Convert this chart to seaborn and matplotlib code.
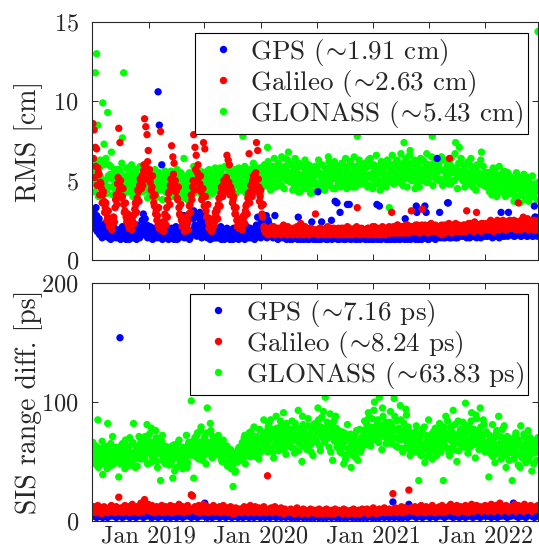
import pandas as pd
import matplotlib
matplotlib.use("Agg")
import matplotlib.pyplot as plt
import matplotlib.dates as mdates
import seaborn as sns

sns.set_style("ticks")
plt.rcParams["font.family"] = ["cmr10"]
plt.rcParams["mathtext.fontset"] = "cm"
plt.rcParams["axes.formatter.use_mathtext"] = True

# samples every 4 days from START; the "_b" lists are the days in between (START + 2 days)
START = "2018-07-04"

# ---- RMS, in tenths of a cm ----
gps_rms = [
    24, 31, 22, 28, 19, 26, 17, 21, 15, 19, 23, 16, 18, 14, 20, 17, 22, 15, 18, 16,
    17, 14, 19, 16, 21, 15, 18, 13, 17, 20, 15, 18, 14, 16, 19, 15, 22, 17, 14, 18,
    25, 29, 18, 16, 22, 15, 19, 14, 17, 20, 15, 18, 16, 106, 85, 17, 60, 18, 14, 16,
    15, 18, 14, 17, 20, 16, 13, 18, 15, 17, 14, 19, 16, 22, 28, 18, 15, 24, 17, 14,
    29, 18, 31, 22, 16, 27, 19, 30, 17, 23, 15, 26, 18, 14, 21, 16, 19, 15, 17, 14,
    16, 19, 14, 17, 21, 15, 18, 13, 16, 20, 14, 17, 15, 19, 13, 16, 18, 14, 17, 15,
    17, 14, 19, 15, 18, 21, 16, 14, 20, 17, 15, 19, 16, 22, 27, 18, 15, 24, 17, 20,
    19, 28, 16, 23, 18, 15, 21, 17, 28, 16, 19, 14, 18, 16, 20, 15, 17, 14, 19, 16,
    15, 18, 13, 16, 19, 14, 17, 27, 15, 13, 18, 16, 14, 19, 15, 17, 13, 16, 24, 15,
    14, 17, 15, 43, 13, 16, 24, 15, 18, 14, 16, 13, 17, 15, 25, 14, 16, 37, 15, 13,
    16, 30, 14, 17, 13, 15, 18, 35, 14, 16, 13, 17, 15, 14, 18, 13, 16, 15, 14, 17,
    14, 16, 13, 15, 18, 14, 16, 13, 17, 15, 14, 35, 16, 34, 13, 15, 17, 14, 16, 13,
    15, 13, 16, 14, 17, 13, 15, 18, 14, 16, 13, 15, 17, 14, 26, 15, 13, 16, 14, 17,
    15, 14, 17, 34, 16, 13, 15, 18, 14, 16, 34, 30, 15, 13, 17, 14, 16, 15, 18, 14,
    64, 16, 30, 15, 17, 14, 16, 18, 15, 36, 14, 17, 15, 16, 18, 14, 17, 15, 16, 19,
    16, 18, 15, 17, 14, 19, 16, 18, 15, 17, 20, 16, 14, 18, 15, 17, 19, 16, 15, 18,
    17, 15, 19, 16, 18, 14, 17, 20, 16, 18, 15, 17, 30, 16, 19, 15, 17, 18, 30, 16,
    18, 16, 19, 15, 17, 20, 16, 18, 15, 19, 17, 16, 18, 15, 20, 17, 16, 19, 15, 34,
    27, 17, 19,
]
gps_rms_b = [
    27, 20, 33, 18, 25, 16, 22, 14, 20, 17, 15, 21, 16, 19, 13, 18, 15, 20, 14, 17,
    15, 19, 13, 18, 16, 14, 20, 17, 15, 13, 19, 16, 21, 14, 17, 13, 18, 15, 20, 16,
    21, 16, 26, 19, 14, 17, 21, 16, 13, 18, 15, 20, 14, 17, 15, 19, 13, 16, 20, 15,
    17, 13, 16, 19, 14, 18, 15, 21, 13, 16, 19, 15, 26, 17, 14, 19, 22, 16, 13, 18,
    17, 26, 20, 28, 15, 22, 17, 24, 14, 19, 28, 16, 20, 15, 18, 13, 17, 20, 14, 16,
    14, 17, 20, 15, 13, 18, 16, 19, 14, 17, 15, 13, 18, 16, 20, 14, 15, 19, 13, 16,
    15, 19, 16, 13, 17, 15, 20, 18, 14, 16, 19, 13, 18, 15, 17, 21, 14, 16, 19, 28,
    16, 14, 25, 17, 15, 19, 14, 16, 18, 15, 13, 17, 15, 19, 14, 16, 18, 13, 15, 17,
    13, 16, 15, 18, 14, 16, 13, 15, 17, 14, 16, 13, 17, 15, 13, 16, 14, 18, 15, 13,
    16, 13, 15, 14, 17, 13, 15, 14, 16, 13, 15, 17, 14, 16, 13, 15, 14, 16, 36, 14,
    13, 15, 17, 14, 16, 13, 15, 14, 35, 13, 15, 14, 16, 13, 15, 17, 14, 13, 16, 14,
    15, 13, 14, 16, 13, 15, 14, 17, 13, 14, 16, 13, 15, 14, 13, 16, 14, 15, 13, 14,
    14, 16, 13, 15, 14, 16, 13, 14, 16, 13, 15, 14, 16, 13, 15, 14, 16, 14, 13, 15,
    14, 16, 13, 30, 14, 15, 17, 13, 16, 14, 15, 16, 13, 14, 16, 15, 14, 17, 13, 16,
    15, 17, 14, 16, 15, 18, 14, 16, 36, 15, 17, 14, 16, 18, 15, 17, 14, 16, 18, 15,
    17, 15, 16, 18, 15, 17, 14, 19, 16, 15, 17, 18, 15, 16, 19, 14, 17, 15, 18, 16,
    15, 17, 16, 18, 15, 19, 16, 15, 18, 17, 14, 16, 18, 15, 17, 16, 19, 15, 17, 18,
    16, 19, 15, 17, 18, 16, 19, 17, 15, 18, 16, 19, 17, 15, 18, 16, 17, 15, 19, 27,
    17, 15, 18,
]
gal_rms = [
    86, 82, 71, 70, 58, 54, 49, 45, 41, 37, 33, 30, 27, 24, 22, 21, 23, 27, 33, 41,
    48, 83, 74, 46, 40, 35, 31, 27, 24, 22, 21, 22, 25, 28, 32, 35, 39, 43, 47, 50,
    53, 56, 89, 84, 79, 69, 57, 52, 46, 40, 34, 29, 25, 22, 20, 81, 19, 21, 24, 28,
    33, 38, 43, 47, 72, 65, 61, 50, 44, 38, 33, 28, 25, 22, 20, 19, 21, 24, 29, 35,
    41, 46, 79, 71, 66, 55, 52, 48, 43, 39, 74, 70, 31, 27, 24, 22, 20, 19, 21, 24,
    28, 31, 35, 39, 42, 45, 47, 44, 48, 66, 63, 60, 46, 43, 38, 33, 29, 25, 22, 20,
    21, 22, 24, 27, 31, 35, 39, 67, 43, 47, 50, 52, 49, 74, 69, 46, 40, 34, 27, 21,
    18, 17, 19, 16, 20, 18, 17, 21, 16, 19, 18, 17, 20, 16, 18, 22, 17, 19, 16, 18,
    17, 19, 16, 20, 18, 17, 21, 16, 18, 23, 17, 19, 16, 18, 20, 17, 16, 19, 18, 17,
    18, 29, 17, 19, 16, 20, 18, 17, 19, 16, 18, 21, 17, 19, 16, 18, 20, 17, 19, 16,
    18, 17, 20, 16, 19, 18, 17, 21, 16, 18, 19, 17, 16, 20, 18, 33, 17, 19, 16, 18,
    17, 19, 16, 18, 20, 17, 19, 16, 18, 21, 17, 19, 16, 18, 20, 17, 19, 18, 16, 20,
    18, 21, 17, 30, 19, 17, 20, 18, 22, 17, 19, 21, 18, 20, 17, 19, 22, 18, 20, 31,
    19, 21, 18, 20, 22, 19, 21, 18, 32, 20, 22, 19, 21, 18, 20, 23, 19, 21, 18, 20,
    19, 17, 21, 18, 16, 20, 22, 18, 21, 19, 64, 20, 17, 21, 19, 23, 20, 18, 21, 19,
    21, 18, 22, 20, 31, 21, 19, 23, 20, 22, 18, 21, 30, 20, 22, 19, 23, 21, 19, 22,
    21, 23, 19, 22, 24, 20, 18, 23, 21, 25, 22, 19, 23, 20, 24, 22, 19, 23, 21, 25,
    22, 24, 20, 23, 19, 24, 36, 22, 19, 23, 27, 20, 24, 22, 19, 23, 21, 25, 22, 19,
    23, 19, 21,
]
gal_rms_b = [
    64, 52, 59, 47, 55, 41, 48, 36, 43, 30, 36, 25, 31, 21, 26, 19, 27, 24, 38, 35,
    52, 44, 50, 39, 45, 30, 36, 24, 29, 20, 25, 19, 28, 23, 36, 30, 44, 37, 51, 45,
    47, 60, 51, 58, 62, 55, 49, 44, 53, 36, 41, 31, 28, 33, 23, 19, 24, 18, 29, 22,
    27, 42, 35, 51, 44, 54, 47, 43, 39, 46, 29, 35, 21, 27, 18, 23, 26, 19, 34, 30,
    38, 50, 44, 57, 49, 60, 45, 53, 38, 45, 34, 40, 27, 35, 20, 26, 18, 22, 25, 30,
    32, 26, 39, 34, 46, 40, 50, 43, 52, 45, 49, 41, 44, 36, 40, 29, 33, 21, 26, 23,
    24, 19, 28, 23, 34, 29, 42, 36, 47, 40, 53, 45, 55, 43, 51, 37, 44, 29, 35, 19,
    17, 20, 16, 19, 17, 21, 18, 16, 19, 17, 20, 18, 16, 19, 17, 20, 18, 16, 21, 17,
    19, 16, 18, 17, 20, 16, 19, 18, 17, 20, 16, 18, 21, 17, 19, 16, 18, 20, 17, 19,
    17, 19, 16, 18, 20, 17, 19, 16, 18, 20, 17, 16, 19, 18, 20, 17, 19, 16, 18, 20,
    16, 19, 18, 20, 17, 16, 19, 18, 20, 17, 16, 19, 18, 17, 21, 19, 16, 18, 20, 17,
    19, 17, 18, 20, 16, 19, 17, 21, 18, 16, 19, 20, 17, 18, 16, 21, 17, 19, 20, 18,
    20, 17, 19, 18, 21, 19, 17, 22, 18, 20, 19, 17, 21, 18, 22, 19, 17, 20, 18, 21,
    18, 20, 22, 19, 21, 17, 20, 22, 19, 18, 21, 20, 17, 22, 19, 21, 18, 20, 22, 19,
    21, 19, 18, 22, 20, 19, 17, 21, 20, 23, 18, 19, 22, 20, 18, 21, 19, 22, 20, 18,
    19, 22, 20, 18, 21, 23, 20, 19, 22, 18, 24, 20, 19, 22, 21, 18, 20, 23, 21, 19,
    23, 20, 22, 25, 21, 19, 23, 22, 20, 24, 21, 23, 20, 25, 21, 19, 24, 22, 20, 23,
    20, 23, 25, 21, 22, 20, 24, 21, 25, 22, 20, 23, 21, 26, 22, 20, 24, 21, 23, 25,
    21, 24, 22,
]
glo_rms = [
    48, 55, 118, 130, 85, 52, 63, 47, 99, 73, 50, 44, 93, 60, 54, 68, 46, 53, 49, 57,
    51, 45, 56, 48, 77, 118, 53, 43, 49, 58, 46, 52, 55, 44, 50, 57, 47, 53, 45, 51,
    49, 54, 44, 52, 47, 56, 43, 50, 46, 53, 48, 39, 45, 51, 55, 44, 49, 46, 52, 43,
    47, 53, 44, 50, 46, 55, 42, 49, 45, 52, 48, 44, 51, 47, 64, 50, 45, 38, 48, 54,
    50, 46, 59, 44, 52, 48, 55, 43, 49, 51, 45, 53, 47, 56, 44, 50, 48, 54, 46, 52,
    49, 54, 45, 51, 56, 47, 53, 44, 50, 58, 46, 52, 48, 55, 43, 51, 47, 53, 49, 56,
    50, 46, 78, 53, 48, 55, 44, 51, 57, 47, 52, 49, 56, 45, 53, 48, 58, 51, 46, 54,
    52, 48, 71, 55, 50, 57, 46, 53, 59, 49, 54, 61, 51, 47, 56, 52, 64, 58, 50, 68,
    55, 49, 60, 52, 46, 57, 50, 43, 54, 59, 48, 53, 45, 56, 51, 47, 58, 42, 54, 50,
    53, 48, 57, 44, 55, 60, 50, 46, 54, 58, 49, 52, 62, 47, 55, 51, 57, 45, 53, 59,
    50, 56, 52, 61, 47, 54, 58, 49, 55, 51, 60, 46, 53, 57, 50, 78, 54, 48, 56, 52,
    55, 49, 58, 52, 63, 47, 54, 60, 51, 56, 48, 53, 59, 50, 55, 46, 57, 52, 61, 49,
    54, 33, 57, 51, 60, 48, 55, 62, 50, 56, 53, 58, 47, 74, 55, 61, 52, 57, 69, 50,
    56, 52, 45, 59, 54, 61, 50, 57, 63, 53, 58, 49, 55, 60, 52, 57, 78, 54, 62, 51,
    55, 60, 51, 57, 63, 49, 56, 52, 59, 54, 61, 48, 55, 58, 50, 74, 57, 53, 71, 52,
    56, 50, 58, 53, 61, 48, 55, 51, 59, 46, 54, 57, 50, 53, 60, 49, 68, 52, 47, 55,
    51, 46, 55, 49, 53, 44, 50, 57, 47, 52, 43, 49, 54, 45, 51, 47, 42, 50, 46, 53,
    47, 42, 50, 44, 39, 48, 45, 52, 41, 46, 43, 49, 38, 45, 50, 42, 47, 40, 44, 48,
    43, 46, 144,
]
glo_rms_b = [
    56, 43, 61, 50, 40, 58, 52, 45, 60, 47, 64, 42, 53, 46, 59, 51, 41, 57, 44, 54,
    44, 57, 50, 61, 41, 52, 47, 58, 43, 54, 49, 60, 40, 51, 56, 45, 53, 42, 59, 48,
    43, 53, 48, 58, 39, 50, 56, 42, 51, 46, 57, 40, 49, 55, 44, 51, 38, 47, 56, 45,
    52, 42, 48, 56, 40, 46, 53, 44, 57, 41, 49, 55, 42, 48, 39, 53, 46, 41, 55, 44,
    45, 55, 42, 50, 58, 44, 49, 56, 41, 48, 55, 43, 51, 40, 57, 46, 52, 42, 49, 58,
    55, 44, 50, 58, 41, 52, 47, 59, 43, 49, 56, 42, 52, 45, 57, 49, 42, 54, 58, 46,
    44, 56, 48, 59, 42, 53, 50, 45, 57, 48, 61, 43, 52, 58, 46, 54, 42, 58, 49, 60,
    58, 47, 62, 54, 44, 59, 51, 64, 46, 57, 52, 60, 47, 65, 54, 45, 59, 51, 63, 55,
    51, 60, 44, 57, 64, 47, 54, 61, 43, 52, 59, 49, 63, 45, 55, 60, 47, 57, 51, 43,
    59, 48, 55, 63, 45, 53, 60, 51, 44, 57, 52, 65, 47, 59, 54, 45, 62, 52, 57, 48,
    57, 46, 61, 53, 50, 64, 45, 59, 52, 62, 48, 55, 65, 46, 59, 52, 63, 56, 48, 60,
    50, 61, 53, 46, 59, 64, 52, 45, 60, 53, 66, 48, 57, 44, 62, 55, 50, 59, 46, 63,
    61, 51, 56, 66, 48, 59, 53, 63, 58, 49, 67, 55, 61, 51, 64, 46, 58, 66, 52, 61,
    52, 63, 56, 48, 60, 46, 64, 55, 50, 62, 56, 67, 49, 60, 54, 65, 47, 58, 53, 63,
    61, 50, 57, 65, 47, 56, 63, 52, 60, 48, 56, 64, 50, 58, 67, 54, 45, 61, 55, 64,
    51, 60, 46, 56, 49, 62, 53, 64, 47, 58, 51, 44, 60, 55, 48, 63, 53, 59, 47, 55,
    46, 55, 43, 52, 41, 58, 48, 54, 40, 50, 59, 43, 52, 46, 56, 40, 49, 55, 45, 51,
    42, 51, 37, 46, 55, 40, 48, 36, 50, 44, 54, 39, 46, 52, 37, 48, 43, 53, 40, 47,
    45, 38, 49,
]

# ---- SIS range difference, ps ----
gps_sis = [
    5, 4, 6, 3, 5, 4, 7, 5, 3, 6, 4, 5, 3, 6, 4, 5, 7, 4, 5, 3,
    4, 6, 154, 5, 3, 6, 4, 5, 7, 4, 3, 5, 6, 4, 5, 3, 6, 4, 5, 7,
    5, 3, 6, 4, 7, 5, 4, 6, 3, 5, 4, 6, 5, 3, 7, 4, 5, 6, 4, 3,
    6, 4, 5, 3, 6, 5, 4, 7, 3, 5, 6, 4, 5, 3, 6, 4, 5, 7, 4, 5,
    3, 5, 6, 4, 5, 3, 7, 4, 5, 6, 4, 15, 5, 3, 6, 4, 5, 3, 6, 4,
    5, 4, 6, 3, 5, 7, 4, 5, 3, 6, 4, 5, 6, 3, 4, 5, 7, 4, 3, 5,
    4, 6, 3, 5, 4, 7, 5, 3, 6, 4, 5, 3, 6, 4, 5, 7, 3, 5, 4, 6,
    3, 5, 4, 6, 3, 5, 4, 7, 5, 3, 6, 4, 5, 3, 6, 4, 5, 3, 4, 6,
    5, 3, 4, 6, 3, 5, 4, 3, 6, 4, 5, 3, 4, 6, 3, 5, 4, 3, 5, 4,
    3, 5, 4, 6, 3, 4, 5, 3, 6, 4, 3, 5, 4, 7, 3, 5, 4, 6, 3, 4,
    5, 3, 4, 6, 3, 5, 4, 3, 5, 4, 6, 3, 4, 5, 3, 6, 4, 3, 5, 4,
    3, 5, 4, 3, 6, 4, 5, 3, 4, 6, 3, 5, 4, 3, 5, 4, 6, 3, 4, 5,
    4, 3, 5, 4, 16, 3, 5, 4, 6, 3, 5, 4, 3, 6, 4, 5, 3, 14, 4, 6,
    5, 4, 6, 3, 5, 7, 4, 5, 3, 6, 4, 5, 7, 4, 3, 5, 6, 4, 5, 3,
    6, 4, 5, 7, 4, 5, 3, 6, 4, 5, 7, 4, 6, 3, 5, 4, 6, 5, 3, 7,
    4, 6, 5, 3, 7, 4, 5, 6, 4, 3, 5, 7, 4, 6, 5, 3, 4, 6, 5, 4,
    6, 4, 5, 7, 3, 5, 6, 4, 5, 3, 7, 5, 4, 6, 5, 4, 7, 3, 5, 6,
    4, 5, 15, 6, 4, 5, 3, 7, 5, 4, 6, 5, 3, 4, 6, 5, 7, 4, 5, 3,
    6, 4, 5,
]
gal_sis = [
    9, 12, 7, 10, 13, 8, 11, 6, 9, 12, 8, 10, 7, 11, 9, 13, 8, 10, 7, 12,
    9, 20, 8, 11, 7, 10, 13, 8, 9, 12, 7, 10, 14, 8, 11, 9, 12, 7, 10, 15,
    11, 8, 18, 12, 9, 14, 10, 8, 13, 11, 7, 10, 12, 8, 11, 9, 13, 7, 10, 12,
    8, 11, 9, 13, 7, 10, 12, 8, 11, 9, 14, 8, 10, 12, 7, 11, 9, 13, 8, 10,
    22, 21, 9, 12, 8, 10, 13, 7, 11, 9, 14, 8, 10, 12, 7, 9, 11, 8, 13, 10,
    8, 11, 9, 12, 7, 10, 13, 8, 9, 11, 7, 10, 12, 8, 6, 9, 11, 7, 10, 8,
    10, 7, 9, 12, 8, 11, 7, 9, 13, 8, 10, 7, 12, 9, 8, 11, 7, 10, 8, 12,
    9, 7, 38, 10, 8, 11, 7, 9, 12, 8, 10, 7, 9, 11, 8, 6, 10, 8, 7, 9,
    8, 10, 7, 9, 6, 8, 11, 7, 9, 8, 6, 10, 7, 9, 8, 6, 8, 10, 7, 9,
    7, 9, 6, 8, 10, 7, 8, 6, 9, 7, 10, 8, 6, 7, 9, 8, 6, 10, 7, 8,
    9, 7, 8, 6, 10, 7, 9, 8, 6, 7, 9, 8, 10, 6, 8, 7, 9, 6, 8, 10,
    7, 9, 8, 10, 6, 8, 9, 7, 11, 8, 6, 9, 8, 10, 7, 9, 8, 11, 7, 9,
    8, 10, 7, 9, 23, 8, 11, 7, 9, 10, 8, 12, 7, 9, 11, 8, 10, 26, 9, 11,
    8, 10, 12, 9, 7, 11, 9, 13, 8, 10, 7, 12, 9, 11, 8, 10, 13, 9, 7, 11,
    10, 8, 12, 9, 13, 7, 11, 10, 8, 12, 9, 14, 10, 8, 11, 9, 13, 7, 10, 12,
    9, 11, 8, 13, 10, 7, 12, 9, 14, 10, 8, 11, 13, 9, 10, 12, 8, 11, 9, 13,
    10, 8, 12, 9, 14, 11, 8, 10, 13, 9, 11, 15, 8, 10, 12, 9, 13, 10, 8, 11,
    12, 9, 11, 14, 8, 10, 13, 9, 12, 10, 8, 14, 11, 9, 12, 10, 13, 8, 11, 9,
    12, 10, 13,
]
glo_sis = [
    66, 52, 58, 47, 85, 55, 61, 49, 39, 57, 63, 51, 82, 46, 59, 54, 71, 48, 56, 62,
    53, 37, 60, 49, 65, 56, 44, 62, 51, 58, 70, 47, 55, 82, 52, 63, 46, 59, 54, 67,
    58, 69, 52, 64, 81, 57, 73, 49, 61, 66, 55, 76, 50, 63, 58, 34, 67, 53, 60, 48,
    55, 62, 47, 59, 51, 36, 64, 53, 45, 58, 68, 50, 57, 44, 61, 54, 72, 49, 66, 58,
    101, 63, 36, 70, 57, 74, 52, 66, 79, 60, 55, 71, 48, 95, 64, 58, 76, 53, 68, 61,
    66, 59, 72, 55, 63, 50, 68, 57, 49, 63, 55, 47, 60, 45, 29, 53, 42, 58, 50, 62,
    51, 62, 56, 70, 48, 66, 59, 74, 54, 68, 62, 79, 57, 71, 65, 52, 76, 60, 69, 85,
    64, 75, 58, 82, 69, 61, 77, 53, 72, 88, 66, 59, 74, 80, 63, 91, 70, 56, 78, 67,
    73, 62, 84, 68, 57, 79, 71, 93, 65, 76, 50, 81, 69, 74, 60, 86, 72, 64, 78, 55,
    70, 82, 66, 95, 74, 59, 87, 77, 68, 104, 73, 80, 62, 90, 76, 51, 84, 71, 78, 66,
    69, 58, 75, 62, 48, 67, 55, 81, 60, 70, 45, 64, 57, 72, 53, 66, 61, 77, 59, 68,
    72, 84, 67, 79, 91, 70, 63, 86, 75, 100, 68, 81, 73, 104, 78, 60, 88, 74, 83, 69,
    80, 71, 92, 65, 76, 103, 70, 84, 62, 78, 97, 73, 58, 82, 68, 89, 64, 75, 55, 70,
    66, 74, 58, 80, 61, 34, 70, 55, 77, 63, 49, 72, 60, 85, 57, 68, 52, 75, 64, 59,
    71, 63, 82, 58, 76, 34, 68, 88, 61, 74, 55, 79, 67, 93, 60, 72, 50, 84, 65, 77,
    69, 83, 62, 99, 74, 57, 80, 68, 91, 64, 77, 53, 86, 71, 60, 95, 73, 66, 81, 58,
    75, 62, 37, 70, 56, 81, 65, 49, 73, 59, 88, 63, 52, 77, 60, 68, 45, 71, 57, 66,
    61, 34, 69, 55, 74, 58, 47, 66, 80, 53, 63, 71, 49, 59, 76, 54, 65, 42, 68, 57,
    63, 51, 70,
]
glo_sis_b = [
    58, 49, 63, 54, 45, 60, 51, 67, 48, 56, 62, 44, 57, 52, 65, 47, 58, 53, 60, 50,
    61, 55, 48, 64, 57, 52, 68, 46, 59, 63, 54, 49, 66, 58, 45, 61, 56, 71, 52, 60,
    64, 55, 71, 60, 48, 67, 62, 78, 53, 65, 59, 70, 45, 68, 61, 56, 72, 50, 63, 57,
    52, 60, 55, 48, 63, 57, 42, 61, 54, 66, 47, 59, 53, 62, 50, 57, 45, 64, 55, 60,
    58, 67, 61, 54, 72, 63, 58, 76, 65, 51, 69, 62, 74, 57, 66, 82, 60, 71, 55, 64,
    62, 70, 57, 66, 52, 59, 50, 63, 56, 46, 60, 52, 44, 55, 48, 41, 57, 50, 61, 54,
    59, 66, 53, 72, 61, 57, 69, 63, 75, 58, 66, 71, 54, 68, 62, 77, 58, 67, 72, 61,
    71, 62, 79, 67, 85, 73, 58, 70, 64, 78, 71, 62, 84, 68, 76, 60, 73, 82, 65, 72,
    66, 77, 70, 61, 82, 74, 67, 59, 78, 71, 88, 63, 75, 68, 80, 65, 73, 58, 70, 81,
    78, 68, 74, 85, 63, 79, 71, 92, 66, 77, 83, 70, 75, 58, 81, 73, 67, 88, 62, 76,
    63, 71, 57, 66, 74, 52, 69, 61, 58, 73, 65, 55, 68, 62, 76, 51, 64, 58, 70, 63,
    76, 70, 82, 64, 87, 75, 79, 68, 93, 72, 77, 85, 66, 80, 71, 95, 74, 82, 65, 78,
    74, 83, 67, 79, 70, 88, 63, 77, 72, 68, 85, 61, 76, 71, 94, 66, 79, 60, 73, 67,
    61, 69, 75, 63, 67, 57, 72, 64, 60, 79, 66, 54, 70, 63, 58, 73, 66, 61, 78, 55,
    68, 75, 60, 72, 66, 79, 63, 71, 84, 57, 69, 76, 62, 73, 81, 66, 70, 59, 75, 68,
    75, 64, 71, 80, 67, 77, 62, 84, 70, 73, 66, 89, 68, 76, 63, 79, 70, 85, 61, 74,
    66, 58, 72, 61, 67, 54, 70, 63, 76, 57, 65, 71, 59, 64, 80, 55, 67, 62, 51, 69,
    59, 66, 52, 71, 63, 57, 68, 45, 64, 60, 73, 55, 62, 67, 51, 70, 58, 63, 48, 61,
    66, 58, 62,
]

SIM = r"($\!\sim\!$"
rms_labels = ["GPS " + SIM + "1.91 cm)", "Galileo " + SIM + "2.63 cm)", "GLONASS " + SIM + "5.43 cm)"]
sis_labels = ["GPS " + SIM + "7.16 ps)", "Galileo " + SIM + "8.24 ps)", "GLONASS " + SIM + "63.83 ps)"]
colors = ["#0000ff", "#ff0000", "#00ff00"]
AXCOL = "#262626"


def long_frame(pieces, labels, scale=1.0):
    # pieces: per system, a list of value lists (each on its own 4-day grid, offset 0/2 days)
    # GLONASS first so GPS / Galileo end up drawn on top of it
    parts = []
    for idx in [2, 0, 1]:
        for k, vals in enumerate(pieces[idx]):
            start = pd.Timestamp(START) + pd.Timedelta(days=2 * k)
            dates = pd.date_range(start, periods=len(vals), freq="4D")
            parts.append(pd.DataFrame({"date": dates,
                                       "value": [v * scale for v in vals],
                                       "system": labels[idx]}))
    return pd.concat(parts, ignore_index=True)


rms_df = long_frame([[gps_rms, gps_rms_b], [gal_rms, gal_rms_b], [glo_rms, glo_rms_b]],
                    rms_labels, scale=0.1)
sis_df = long_frame([[gps_sis], [gal_sis], [glo_sis, glo_sis_b]], sis_labels)

fig = plt.figure(figsize=(5.39, 5.56), dpi=100)
ax1 = fig.add_axes([92 / 539, (556 - 260) / 556, 446 / 539, 238 / 556])
ax2 = fig.add_axes([92 / 539, (556 - 521) / 556, 446 / 539, 238 / 556])


def jan_only(x, pos):
    d = mdates.num2date(x)
    return "Jan %d" % d.year if d.month == 1 else ""


for ax, df, labels, ylab, ylim, yticks in [
    (ax1, rms_df, rms_labels, "RMS [cm]", (0, 15), [0, 5, 10, 15]),
    (ax2, sis_df, sis_labels, "SIS range diff. [ps]", (0, 200), [0, 100, 200]),
]:
    sns.scatterplot(data=df, x="date", y="value", hue="system", hue_order=labels,
                    palette=colors, s=28, linewidth=0, alpha=1, ax=ax)
    ax.set_xlim(pd.Timestamp("2018-07-01"), pd.Timestamp("2022-06-21"))
    ax.set_ylim(*ylim)
    ax.set_yticks(yticks)
    ax.xaxis.set_major_locator(mdates.MonthLocator(bymonth=[1, 7]))
    ax.xaxis.set_major_formatter(plt.FuncFormatter(jan_only))
    ax.set_xlabel("")
    ax.set_ylabel(ylab, fontsize=20, color=AXCOL)
    ax.yaxis.set_label_coords(-0.110, 0.5)
    ax.tick_params(direction="in", top=True, right=True, length=4, width=0.7,
                   labelsize=17.5, colors=AXCOL)
    ax.tick_params(axis="y", pad=9.5)
    ax.tick_params(axis="x", pad=3)
    for sp in ax.spines.values():
        sp.set_color(AXCOL)
        sp.set_linewidth(0.8)
    handles, labs = ax.get_legend_handles_labels()
    leg = ax.legend(handles, labs, loc="upper right", bbox_to_anchor=(0.978, 0.955),
                    borderaxespad=0, fontsize=19.5, frameon=True, fancybox=False,
                    edgecolor="black", framealpha=1, handlelength=1.75,
                    handletextpad=0.15, borderpad=0.15, labelspacing=0.0)
    leg.get_frame().set_linewidth(0.8)

ax1.tick_params(axis="x", labelbottom=False)

fig.savefig("out.png", dpi=100)
